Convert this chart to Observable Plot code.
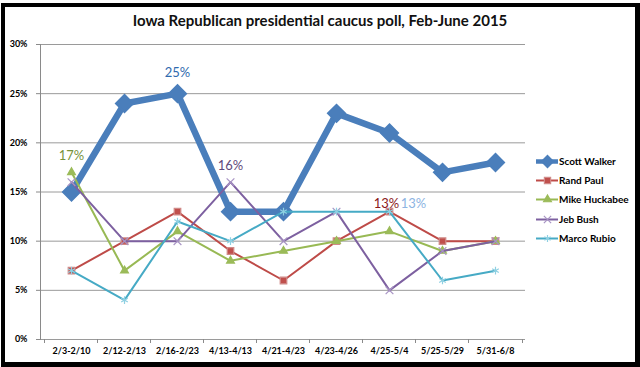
<!DOCTYPE html>
<html>
<head>
<meta charset="utf-8">
<script src="https://cdn.jsdelivr.net/npm/d3@7"></script>
<script src="https://cdn.jsdelivr.net/npm/@observablehq/plot@0.6"></script>
<style>
  body { margin: 0; background: #fff; width: 640px; height: 367px; overflow: hidden; position: relative; font-family: Lato, "Open Sans", sans-serif; }
  #frame { position: absolute; left: 1px; top: 3px; width: 639px; height: 364px; box-sizing: border-box;
           border-style: solid; border-color: #000; border-width: 4px 5px 5px 4px; }
  #title { position: absolute; left: 0; top: 11px; width: 640px; text-align: center; font: bold 15px Lato, sans-serif; color: #111; }
  #chart { position: absolute; left: 0; top: 0; }
  #legend { position: absolute; left: 536px; top: 151px; }
  .item { display: flex; align-items: center; height: 19.3px; font: bold 10px Lato, sans-serif; color: #000; white-space: nowrap; }
  .item svg { margin-right: 1px; }
</style>
</head>
<body>
<div id="frame"></div>
<div id="chart"></div>
<div id="title">Iowa Republican presidential caucus poll, Feb-June 2015</div>
<div id="legend"></div>
<script>
const categories = ["2/3-2/10","2/12-2/13","2/16-2/23","4/13-4/13","4/21-4/23","4/23-4/26","4/25-5/4","5/25-5/29","5/31-6/8"];
const seriesNames = ["Scott Walker","Rand Paul","Mike Huckabee","Jeb Bush","Marco Rubio"];
const walker   = [15,24,25,13,13,23,21,17,18];
const paul     = [7,10,13,9,6,10,13,10,10];
const huckabee = [17,7,11,8,9,10,11,9,10];
const bush     = [16,10,10,16,10,13,5,9,10];
const rubio    = [7,4,12,10,13,13,13,6,7];
const yTicks   = [0,5,10,15,20,25,30];
// annotated points: [series, category]
const annotations = [
  ["Scott Walker","2/16-2/23"],
  ["Mike Huckabee","2/3-2/10"],
  ["Jeb Bush","4/13-4/13"],
  ["Rand Paul","4/25-5/4"],
  ["Marco Rubio","4/25-5/4"]
];

const values = [walker, paul, huckabee, bush, rubio];
const data = seriesNames.flatMap((name, i) => categories.map((c, j) => ({name, date: c, value: values[i][j]})));

const styles = {
  "Scott Walker":  {line: "#4A7EBB", width: 6.5, symbol: "diamond2", r: 8,   lr: 5.5, fill: "#4A7EBB", stroke: "#4A7EBB", label: "#2F6AAE", dx: 0,   dy: -21},
  "Rand Paul":     {line: "#BE4B48", width: 2,   symbol: "square",   r: 3.7, lr: 3.5, fill: "#C0504D", stroke: "#D08A88", label: "#8B1A1A", dx: -3,  dy: -8},
  "Mike Huckabee": {line: "#98B954", width: 2,   symbol: "triangle", r: 2.9, lr: 2.9, fill: "#9BBB59", stroke: "#9BBB59", label: "#77933C", dx: 0,   dy: -17},
  "Jeb Bush":      {line: "#7D60A0", width: 2,   symbol: "times",    r: 3.6, lr: 3.4, fill: "none",    stroke: "#A894C4", label: "#5F497A", dx: 0,   dy: -16},
  "Marco Rubio":   {line: "#46AAC5", width: 2,   symbol: "asterisk", r: 3.6, lr: 3.4, fill: "none",    stroke: "#8FD0E2", label: "#8DB4E2", dx: 24,  dy: -8}
};

const marks = [
  Plot.ruleY(yTicks, {stroke: "#9a9a9a", strokeWidth: 1}),
  Plot.frame({anchor: "left", stroke: "#8a8a8a"}),
  Plot.axisY(yTicks, {tickSize: 4, tickPadding: 9, stroke: "#8a8a8a", tickFormat: d => d + "%", fontSize: 9, fontWeight: "bold", fill: "#000", label: null}),
  Plot.axisX({tickSize: 0, tickPadding: 8, fontSize: 9, fontWeight: "bold", fill: "#000", label: null}),
  Plot.axisX({tickSize: 4, stroke: "#8a8a8a", tickFormat: () => "", dx: -27, label: null}),
  Plot.axisX([categories[categories.length - 1]], {tickSize: 4, stroke: "#8a8a8a", tickFormat: () => "", dx: 27, label: null})
];

for (const name of seriesNames) {
  const s = styles[name];
  const d = data.filter(r => r.name === name);
  marks.push(Plot.lineY(d, {x: "date", y: "value", stroke: s.line, strokeWidth: s.width, strokeLinejoin: "round"}));
  marks.push(Plot.dot(d, {x: "date", y: "value", symbol: () => s.symbol, r: s.r, fill: s.fill, stroke: s.stroke, strokeWidth: name === "Scott Walker" ? 1.5 : 1.2}));
}
for (const [name, date] of annotations) {
  const s = styles[name];
  const d = data.filter(r => r.name === name && r.date === date);
  marks.push(Plot.text(d, {x: "date", y: "value", text: r => r.value + "%", fill: s.label, dx: s.dx, dy: s.dy, fontSize: 13, fontFamily: "Lato, sans-serif"}));
}

const chart = Plot.plot({
  width: 640,
  height: 367,
  marginTop: 44,
  marginBottom: 28,
  marginLeft: 40,
  marginRight: 115,
  style: {fontFamily: "Lato, sans-serif", background: "transparent", overflow: "visible"},
  x: {type: "point", domain: categories, padding: 0.5},
  y: {domain: [0, 30]},
  symbol: {type: "identity"},
  marks
});
document.getElementById("chart").appendChild(chart);

// legend
const legend = document.getElementById("legend");
for (const name of seriesNames) {
  const s = styles[name];
  const item = document.createElement("div");
  item.className = "item";
  const sw = Plot.plot({
    width: 22, height: 14, margin: 0,
    x: {type: "linear", domain: [0, 22], range: [0, 22], axis: null},
    y: {type: "linear", domain: [0, 14], range: [14, 0], axis: null},
    symbol: {type: "identity"},
    style: {background: "transparent", overflow: "visible"},
    marks: [
      Plot.ruleY([7], {x1: 0, x2: 22, stroke: s.line, strokeWidth: name === "Scott Walker" ? 4.5 : 2}),
      Plot.dot([{x: 11, y: 7}], {x: "x", y: "y", symbol: () => s.symbol, r: s.lr, fill: s.fill, stroke: s.stroke, strokeWidth: 1.2})
    ]
  });
  item.appendChild(sw);
  const t = document.createElement("span");
  t.textContent = name;
  item.appendChild(t);
  legend.appendChild(item);
}
</script>
</body>
</html>
